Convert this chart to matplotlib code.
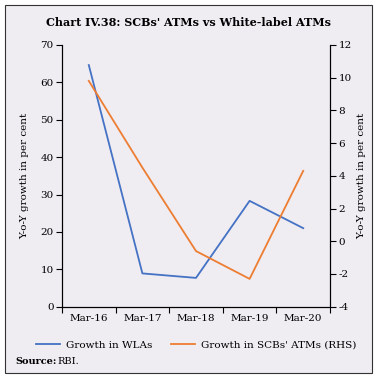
import matplotlib
matplotlib.use("Agg")
import matplotlib.pyplot as plt
from matplotlib.patches import Rectangle
from matplotlib.lines import Line2D
import numpy as np

categories = ["Mar-16", "Mar-17", "Mar-18", "Mar-19", "Mar-20"]
wla_growth = [64.6, 8.9, 7.7, 28.3, 21.0]
scb_growth = [9.8, 4.5, -0.6, -2.3, 4.3]
left_ticks = [0, 10, 20, 30, 40, 50, 60, 70]
right_ticks = [-4, -2, 0, 2, 4, 6, 8, 10, 12]

BG = "#EFECF2"
BLUE = "#4472C4"
ORANGE = "#ED7D31"
plt.rcParams['font.family'] = ['DejaVu Serif']
plt.rcParams['axes.unicode_minus'] = False

fig = plt.figure(figsize=(3.77, 3.80), dpi=100)
fig.patch.set_facecolor("white")
fig.patches.append(Rectangle((5/377, 1-373/380), 367/377, 368/380, transform=fig.transFigure,
                             facecolor=BG, edgecolor="#333333", linewidth=0.8, zorder=-5))

ax = fig.add_axes([62/377, 1-306.7/380, 268/377, 261.8/380])
ax.set_facecolor("none")
x = np.arange(len(categories))
ax.plot(x, wla_growth, color=BLUE, lw=1.3)
ax.set_xlim(-0.5, len(categories) - 0.5)
ax.set_ylim(0, 70)
ax.set_yticks(left_ticks)
ax.set_xticks(np.arange(-0.5, len(categories), 1.0))
ax.set_xticklabels([])
ax.set_xticks(x, minor=True)
ax.set_xticklabels(categories, minor=True)
ax.tick_params(axis='x', which='minor', length=0, labelsize=7.5, pad=5)
ax.tick_params(axis='x', which='major', length=4, width=0.8)
ax.tick_params(axis='y', length=4, width=0.8, labelsize=7.5, pad=2)
ax.spines['top'].set_visible(False)
ax.set_ylabel("Y-o-Y growth in per cent", fontsize=7.5, labelpad=8)

ax2 = ax.twinx()
ax2.plot(x, scb_growth, color=ORANGE, lw=1.3)
ax2.set_ylim(-4, 12)
ax2.set_yticks(right_ticks)
ax2.tick_params(axis='y', length=4, width=0.8, labelsize=7.5, pad=2)
ax2.spines['top'].set_visible(False)
ax2.set_ylabel("Y-o-Y growth in per cent", fontsize=7.5, labelpad=4)

fig.text(0.5, 1-23/380, "Chart IV.38: SCBs' ATMs vs White-label ATMs", ha='center', va='center',
         fontsize=8, fontweight='bold')

handles = [Line2D([], [], color=BLUE, lw=1.3), Line2D([], [], color=ORANGE, lw=1.3)]
fig.legend(handles, ["Growth in WLAs", "Growth in SCBs' ATMs (RHS)"], loc='center',
           bbox_to_anchor=(0.52, 1-345/380), ncol=2, frameon=False, fontsize=7.5,
           handlelength=2.3, columnspacing=1.8, handletextpad=0.6)

fig.text(15/377, 1-362/380, "Source:", fontsize=7, fontweight='bold', va='center')
fig.text(57/377, 1-362/380, "RBI.", fontsize=7, va='center')

fig.savefig("out.png", dpi=100)
